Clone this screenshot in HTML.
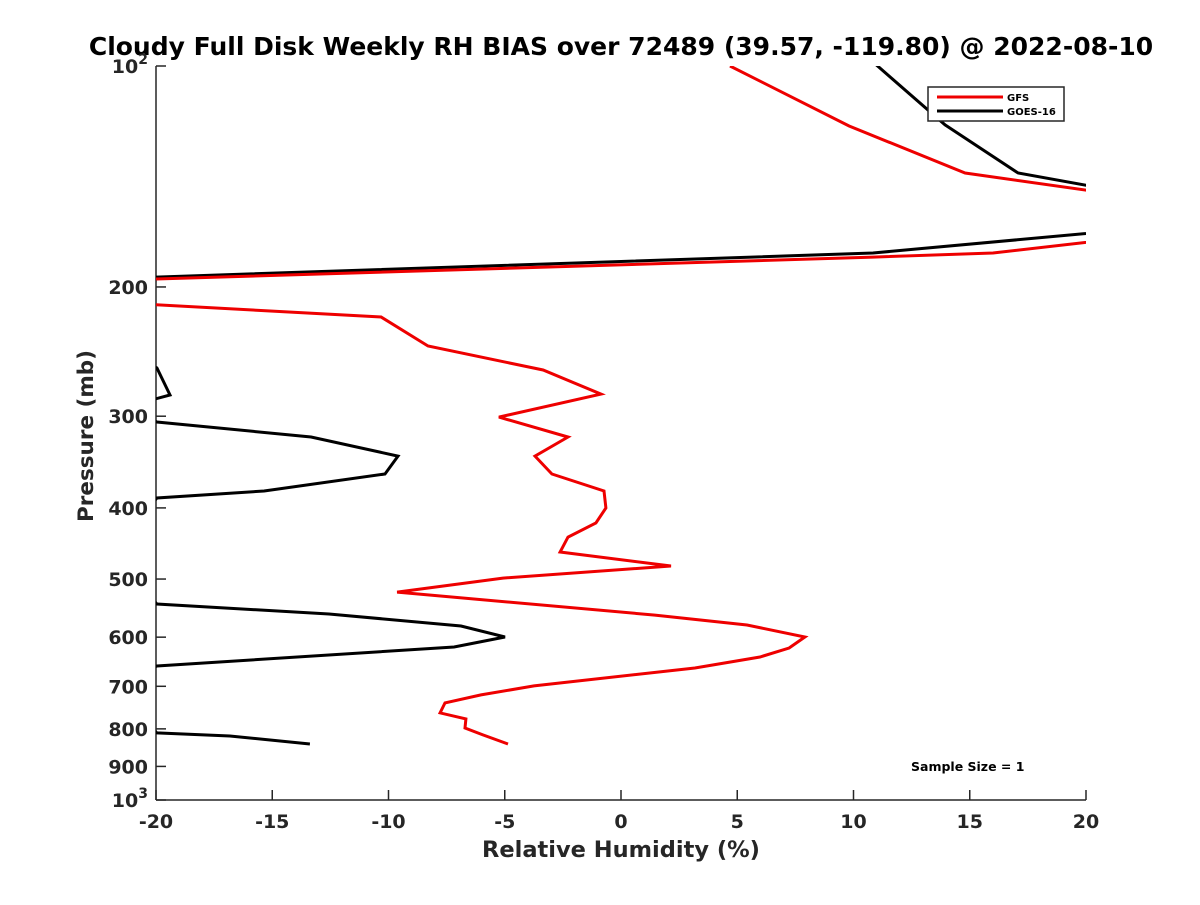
<!DOCTYPE html>
<html><head><meta charset="utf-8"><style>
html,body{margin:0;padding:0;background:#fff;}
svg text{font-family:"DejaVu Sans","Liberation Sans",sans-serif;font-weight:bold;}
</style></head><body>
<svg id="chart" width="1200" height="900" viewBox="0 0 1200 900" xmlns="http://www.w3.org/2000/svg">
<defs><clipPath id="plotclip"><rect x="156" y="66" width="930" height="734"/></clipPath></defs>
<rect width="1200" height="900" fill="#fff"/>
<text x="621" y="55" font-size="25" text-anchor="middle" fill="#000">Cloudy Full Disk Weekly RH BIAS over 72489 (39.57, -119.80) @ 2022-08-10</text>
<g id="axes"></g>
<g id="series" clip-path="url(#plotclip)"></g>
<text x="621" y="857" font-size="22.5" text-anchor="middle" fill="#262626">Relative Humidity (%)</text>
<text transform="translate(93,436) rotate(-90)" font-size="21.5" text-anchor="middle" fill="#262626">Pressure (mb)</text>
<g>
<rect x="928" y="87" width="136" height="34" fill="#fff" stroke="#262626" stroke-width="1.5"/>
<line x1="937" y1="97" x2="1003" y2="97" stroke="#e00" stroke-width="3"/>
<text x="1007" y="101" font-size="10" fill="#000">GFS</text>
<line x1="937" y1="111" x2="1003" y2="111" stroke="#000" stroke-width="3"/>
<text x="1007" y="115" font-size="10" fill="#000">GOES-16</text>
</g>
<text x="911" y="771" font-size="12.5" fill="#000">Sample Size = 1</text>
</svg>
<script>
const xTicks = [-20,-15,-10,-5,0,5,10,15,20];
const yTicks = [100,200,300,400,500,600,700,800,900,1000];
const yTickLabels = ["10²","200","300","400","500","600","700","800","900","10³"];
const gfsX = [4.69,9.81,14.8,24.9,22,16.0,10.84,-20,-29,-10.32,-8.3,-3.35,-0.86,-5.25,-2.28,-3.7,-2.97,-0.73,-0.65,-1.08,-2.28,-2.62,2.15,-5.08,-9.63,1.46,5.42,7.91,7.23,5.98,3.18,-3.74,-6.02,-7.57,-7.78,-6.67,-6.71,-5.94,-4.86];
const gfsP = [100,120.7,139.9,155.3,171,179.8,182.1,195.1,204,219.8,240.7,259.5,279.9,300.8,320.2,340,359.6,379.3,400.1,419.4,438.3,459.4,480,498.5,520.9,559.8,577.6,599.6,620.8,638.6,661,699.2,719.2,737.4,761,775.4,797.7,815.4,838.8];
const goesX = [9.76,13.94,17.08,20.17,24.04,10.84,-20,-21,-19.96,-19.4,-20.04,-21,-19.96,-13.33,-9.59,-10.15,-15.35,-19.96,-22,-19.96,-12.56,-6.88,-4.99,-7.18,-19.96,-22,-19.96,-16.82,-13.38];
const goesP = [92.2,120.3,139.9,145.7,164.6,179.8,193.9,250,257.8,280.7,284.2,295,305.5,320.2,340,359.6,379.3,387.8,460,540.8,558,579.4,599.6,618.8,656.9,700,810.3,818,838.8];

const X0=156,X1=1086,Y0=66,Y1=800;
function xs(v){return X0+(v+20)/40*(X1-X0);}
function ys(p){return Y0+(Math.log10(p)-2)*(Y1-Y0);}
const NS="http://www.w3.org/2000/svg";
const axes=document.getElementById('axes'), series=document.getElementById('series');
function mk(tag,attrs,parent){const e=document.createElementNS(NS,tag);for(const k in attrs)e.setAttribute(k,attrs[k]);parent.appendChild(e);return e;}
let ax=mk('line',{x1:X0,y1:Y0,x2:X0,y2:Y1,stroke:'#262626','stroke-width':1.5},axes);


let bx=mk('line',{x1:X0,y1:Y1,x2:X1,y2:Y1,stroke:'#262626','stroke-width':1.5},axes);


xTicks.forEach(v=>{
  const t=mk('line',{x1:xs(v),y1:Y1,x2:xs(v),y2:Y1-10,stroke:'#262626','stroke-width':1.5},axes);
  
  
  const l=mk('text',{x:xs(v),y:Y1+28,'font-size':19,'text-anchor':'middle',fill:'#262626'},axes);
  
  
  l.textContent=v;
});
yTicks.forEach((p,i)=>{
  const t=mk('line',{x1:X0,y1:ys(p),x2:X0+10,y2:ys(p),stroke:'#262626','stroke-width':1.5},axes);
  
  
  const l=mk('text',{x:X0-8,y:ys(p)+7,'font-size':19,'text-anchor':'end',fill:'#262626'},axes);
  
  
  const s=yTickLabels[i];
  if(s.startsWith('10')&&s.length===3){
    l.textContent='10';
    const sup=mk('tspan',{dy:-9,'font-size':14},l);
    sup.textContent=s[2]==='²'?'2':'3';
  } else l.textContent=s;
});
function drawLine(xv,pv,color,name){
  const pts=xv.map((v,i)=>xs(v).toFixed(1)+','+ys(pv[i]).toFixed(1)).join(' ');
  const pl=mk('polyline',{points:pts,fill:'none',stroke:color,'stroke-width':3,'stroke-linejoin':'miter'},series);
  
  
}
drawLine(goesX,goesP,'#000','goes16-line');
drawLine(gfsX,gfsP,'#e00','gfs-line');
</script>
</body></html>
